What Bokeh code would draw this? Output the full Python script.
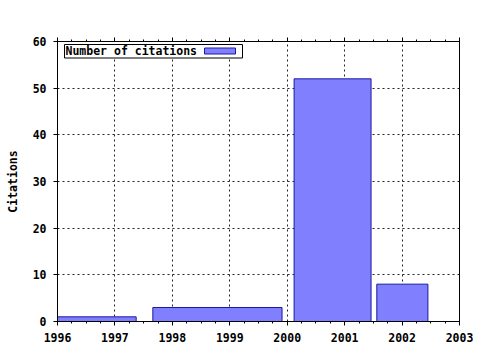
from bokeh.plotting import figure
from bokeh.models import (Range1d, FixedTicker, LinearAxis, BoxAnnotation, Label,
                          BasicTickFormatter, CustomJSTickFormatter)
from bokeh.embed import file_html
from bokeh.resources import INLINE

# ---- data ----
bar_starts = [1996.0, 1997.66, 2000.12, 2001.56]
bar_ends = [1997.37, 1999.91, 2001.46, 2002.45]
citations = [1, 3, 52, 8]
year_ticks = [1996, 1997, 1998, 1999, 2000, 2001, 2002, 2003]
y_ticks = [0, 10, 20, 30, 40, 50, 60]
series_name = "Number of citations"
y_title = "Citations"

FONT = "DejaVu Sans Mono"
FS = "11.5px"

W, H = 480, 350
FL, FR, FT, FB = 57, 459, 41, 321
x0, x1 = year_ticks[0], year_ticks[-1]
y0, y1 = y_ticks[0], y_ticks[-1]

p = figure(width=W, height=H, output_backend="svg", toolbar_location=None,
           x_range=Range1d(x0, x1), y_range=Range1d(y0, y1),
           min_border_left=FL, min_border_right=W - FR,
           min_border_top=FT, min_border_bottom=H - FB)
p.background_fill_color = "white"
p.border_fill_color = "white"
p.outline_line_color = "black"
p.outline_line_width = 1

minor = [x0 + 0.25 * i for i in range(int((x1 - x0) * 4) + 1)]
xt = FixedTicker(ticks=year_ticks, minor_ticks=minor)
yt = FixedTicker(ticks=y_ticks, minor_ticks=[])

p.xaxis.ticker = xt
p.yaxis.ticker = yt
p.xaxis.formatter = BasicTickFormatter(use_scientific=False)
p.xgrid.ticker = FixedTicker(ticks=year_ticks)
p.ygrid.ticker = FixedTicker(ticks=y_ticks)
for g in (p.xgrid, p.ygrid):
    g.grid_line_color = "#222222"
    g.grid_line_dash = "2 3"
    g.grid_line_width = 1

for ax in (p.xaxis, p.yaxis):
    ax.axis_line_color = "black"
    ax.major_tick_line_color = "black"
    ax.minor_tick_line_color = "black"
    ax.major_tick_in = 0
    ax.major_tick_out = 4
    ax.minor_tick_in = 0
    ax.minor_tick_out = 2
    ax.major_label_text_font = FONT
    ax.major_label_text_font_size = FS
    ax.major_label_text_font_style = "bold"
    ax.major_label_text_color = "black"
    ax.major_label_standoff = 7
p.yaxis.axis_label = y_title
p.yaxis.axis_label_text_font = FONT
p.yaxis.axis_label_text_font_size = FS
p.yaxis.axis_label_text_font_style = "bold"
p.yaxis.axis_label_text_color = "black"
p.yaxis.axis_label_standoff = 10

top = LinearAxis(ticker=xt, formatter=CustomJSTickFormatter(code="return ''"),
                 major_tick_in=0, major_tick_out=4, minor_tick_in=0, minor_tick_out=2,
                 major_label_standoff=0, axis_line_color="black",
                 major_tick_line_color="black", minor_tick_line_color="black")
p.add_layout(top, "above")

p.quad(left=bar_starts, right=bar_ends, top=citations, bottom=0,
       fill_color="#8080ff", line_color="#1a1aa0", line_width=1)

# ---- legend (gnuplot style: label then swatch, inside box) ----
dx = (x1 - x0) / (FR - FL)
dy = (y1 - y0) / (FB - FT)
def sx(px):
    return x0 + (px - FL) * dx
def sy(py):
    return y1 - (py - FT) * dy

p.add_layout(BoxAnnotation(left=sx(64), right=sx(242), top=sy(44), bottom=sy(57.5),
                           fill_color="white", fill_alpha=1, line_color="black",
                           line_alpha=1, line_width=1, level="overlay"))
p.add_layout(BoxAnnotation(left=sx(204), right=sx(235), top=sy(47.5), bottom=sy(53.5),
                           fill_color="#8080ff", fill_alpha=1, line_color="#1a1aa0",
                           line_alpha=1, line_width=1, level="overlay"))
p.add_layout(Label(x=sx(65), y=sy(50.8), text=series_name, text_font=FONT,
                   text_font_size=FS, text_font_style="bold", text_baseline="middle",
                   text_color="black", level="overlay"))

open("out.html", "w").write(file_html(p, INLINE))
